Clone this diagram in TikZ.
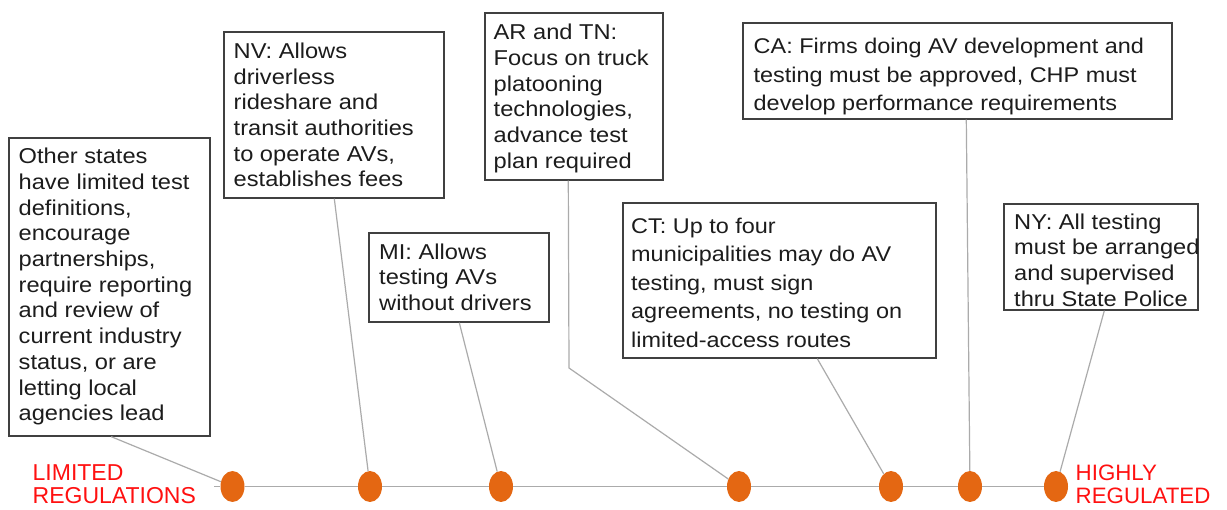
\documentclass[tikz,border=0pt]{standalone}
\usepackage{fontspec}
\setmainfont{Liberation Sans}
\newfontfamily\bodyfont[FakeStretch=1.1]{Liberation Sans}
\usetikzlibrary{shapes.geometric}
\definecolor{boxgray}{HTML}{404040}
\definecolor{linegray}{HTML}{ABABAB}
\definecolor{dotorange}{HTML}{E46712}
\definecolor{txtgray}{HTML}{1C1C1C}
\definecolor{labred}{HTML}{FF1010}
\begin{document}
\begin{tikzpicture}[x=1pt,y=-1pt,
  box/.style={draw=boxgray, line width=1.4pt, rectangle, inner sep=0pt},
  txt/.style={anchor=north west, inner sep=0pt, align=left, text=txtgray,
    font=\bodyfont\fontsize{21.5}{25.7}\selectfont},
  txtwide/.style={txt, font=\bodyfont\fontsize{21.3}{28.5}\selectfont},
  conn/.style={draw=linegray, line width=1.2pt},
  tline/.style={draw=linegray, line width=1.5pt},
  dot/.style={ellipse, fill=dotorange, draw=none, minimum width=24pt, minimum height=31pt, inner sep=0pt},
  lab/.style={anchor=north west, inner sep=0pt, align=left, text=labred,
    font=\fontsize{23}{23.3}\selectfont}]
\fill[white] (0,0) rectangle (1227,510);
\path[use as bounding box] (0,0) rectangle (1227,510);

% boxes
\node[box, minimum width=201pt, minimum height=298pt] (b1) at (109.5,287) {};
\node[box, minimum width=220pt, minimum height=166pt] (b2) at (334,115) {};
\node[box, minimum width=180pt, minimum height=89pt] (b3) at (459,277.5) {};
\node[box, minimum width=178pt, minimum height=167pt] (b4) at (574,96.5) {};
\node[box, minimum width=313pt, minimum height=155pt] (b5) at (779.5,280.5) {};
\node[box, minimum width=429pt, minimum height=96pt] (b6) at (957.5,71) {};
\node[box, minimum width=194pt, minimum height=106pt] (b7) at (1101,257) {};

% texts
\node[txt] (t1) at (18.5,148) {Other states\\have limited test\\definitions,\\encourage\\partnerships,\\require reporting\\and review of\\current industry\\status, or are\\letting local\\agencies lead};
\node[txt] (t2) at (233.5,42.7) {NV: Allows\\driverless\\rideshare and\\transit authorities\\to operate AVs,\\establishes fees};
\node[txt] (t3) at (379,243.3) {MI: Allows\\testing AVs\\without drivers};
\node[txt] (t4) at (493.5,24) {AR and TN:\\Focus on truck\\platooning\\technologies,\\advance test\\plan required};
\node[txtwide] (t5) at (631,217.7) {CT: Up to four\\municipalities may do AV\\testing, must sign\\agreements, no testing on\\limited-access routes};
\node[txtwide] (t6) at (753.5,38.3) {CA: Firms doing AV development and\\testing must be approved, CHP must\\develop performance requirements};
\node[txt] (t7) at (1014,213.3) {NY: All testing\\must be arranged\\and supervised\\thru State Police};

% dots
\node[dot] (d1) at (232.5,486.5) {};
\node[dot] (d2) at (370,486.5) {};
\node[dot] (d3) at (501,486.5) {};
\node[dot] (d4) at (739,486.5) {};
\node[dot] (d5) at (891,486.5) {};
\node[dot] (d6) at (970,486.5) {};
\node[dot] (d7) at (1056,486.5) {};

% timeline
\coordinate (tl) at (214,486.5);
\draw[tline] (tl) -- (d1) -- (d2) -- (d3) -- (d4) -- (d5) -- (d6) -- (d7);

% connectors
\coordinate (k4) at (569,368);
\draw[conn] ([xshift=103pt]b1.south west) -- (d1);
\draw[conn] ([xshift=111pt]b2.south west) -- (d2);
\draw[conn] ([xshift=91pt]b3.south west) -- (d3);
\draw[conn] ([xshift=84pt]b4.south west) -- (k4) -- (d4);
\draw[conn] ([xshift=195pt]b5.south west) -- (d5);
\draw[conn] ([xshift=224pt]b6.south west) -- (d6);
\draw[conn] ([xshift=101pt]b7.south west) -- (d7);

% end labels
\node[lab] (l1) at (32.5,464.3) {LIMITED\\REGULATIONS};
\node[lab, font=\fontsize{22.3}{23.3}\selectfont] (l2) at (1075.5,464.3) {HIGHLY\\REGULATED};
\end{tikzpicture}
\end{document}
